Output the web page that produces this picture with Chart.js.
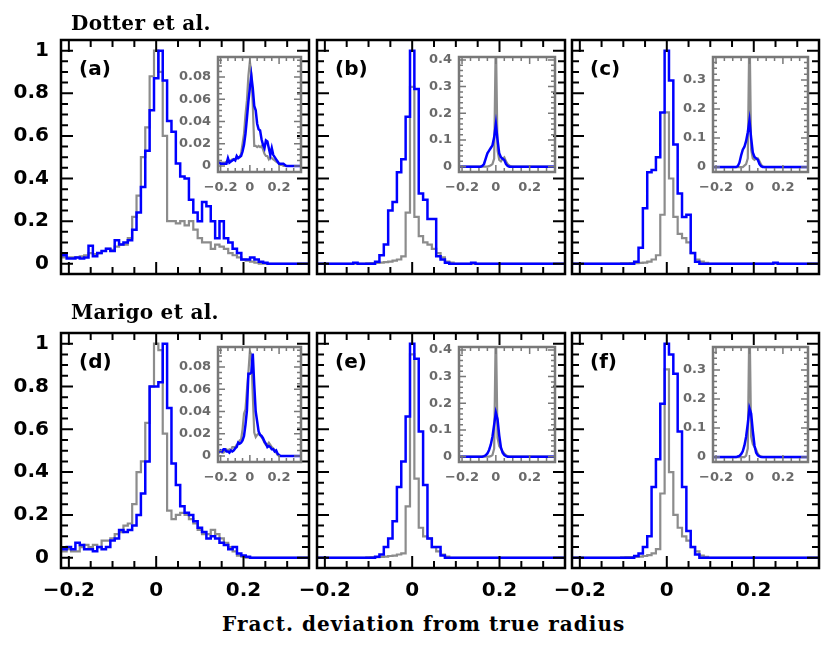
<!DOCTYPE html>
<html>
<head>
<meta charset="utf-8">
<script src="https://cdn.jsdelivr.net/npm/chart.js@4.4.0/dist/chart.umd.min.js"></script>
<style>
body { margin: 0; background: #fff; }
#fig { position: relative; width: 830px; height: 648px; overflow: hidden; background: #fff; }
#fig canvas { position: absolute; }
.txt { position: absolute; white-space: nowrap; color: #000; }
.row-title { font: bold 20px "DejaVu Serif"; letter-spacing: 0.3px; line-height: 20px; }
.panel-label { font: bold 20px "DejaVu Sans"; line-height: 20px; }
.axis-title { font: bold 20px "DejaVu Serif"; letter-spacing: 1.05px; line-height: 20px; }
</style>
</head>
<body>
<div id="fig"></div>
<script>
// bin centres of the histograms (fractional deviation)
const BIN_CENTERS = [-0.22,-0.21,-0.2,-0.19,-0.18,-0.17,-0.16,-0.15,-0.14,-0.13,-0.12,-0.11,-0.1,-0.09,-0.08,-0.07,-0.06,-0.05,-0.04,-0.03,-0.02,-0.01,
  0,0.01,0.02,0.03,0.04,0.05,0.06,0.07,0.08,0.09,0.1,0.11,0.12,0.13,0.14,0.15,0.16,0.17,0.18,0.19,0.2,0.21,0.22,0.23,0.24,0.25,0.26,0.27,0.28,0.29,0.3,0.31,0.32,0.33,0.34,0.35];

// main panels, normalised histograms
const blueA = [0.04,0.04,0.025,0.025,0.03,0.025,0.03,0.085,0.035,0.05,0.06,0.07,0.06,0.11,0.09,0.1,0.11,0.16,0.24,0.36,0.53,0.72,0.87,1.0,0.86,0.67,0.62,0.47,0.41,0.4,0.3,0.24,0.2,0.29,0.27,0.2,0.12,0.2,0.12,0.1,0.07,0.05,0.02,0.02,0.03,0.02,0.01,0.005,0,0,0,0,0,0,0,0,0,0];
const grayA = [0.03,0.03,0.03,0.03,0.03,0.035,0.04,0.05,0.045,0.05,0.06,0.07,0.065,0.08,0.09,0.09,0.12,0.22,0.32,0.5,0.64,0.88,1.0,0.9,0.6,0.2,0.2,0.19,0.2,0.18,0.2,0.16,0.12,0.1,0.1,0.07,0.09,0.08,0.07,0.05,0.04,0.03,0.02,0.015,0.01,0.005,0,0,0,0,0,0,0,0,0,0,0,0];
const blueB = [0,0,0,0,0,0,0,0,0,0.005,0,0,0,0,0.01,0.04,0.09,0.25,0.29,0.43,0.49,0.69,1.0,0.82,0.33,0.3,0.21,0.21,0.035,0.02,0.005,0,0,0,0,0,0.005,0,0,0,0,0,0,0,0,0,0,0,0,0,0,0,0,0,0,0,0,0];
const grayB = [0,0,0,0,0,0,0,0,0,0,0,0,0.002,0.003,0.004,0.005,0.008,0.01,0.015,0.02,0.035,0.24,0.83,0.22,0.13,0.1,0.09,0.07,0.05,0.03,0.01,0.005,0,0,0,0,0,0,0,0,0,0,0,0,0,0,0,0,0,0,0,0,0,0,0,0,0,0];
const blueC = [0,0,0,0,0,0,0,0,0,0,0,0,0,0,0,0.01,0.075,0.26,0.43,0.44,0.5,0.71,1.0,0.86,0.56,0.33,0.22,0.23,0.05,0.01,0,0,0,0,0,0,0,0,0,0,0,0,0,0,0,0,0,0.005,0,0,0,0,0,0,0,0,0,0];
const grayC = [0,0,0,0,0,0,0,0,0,0,0,0,0.002,0.002,0.003,0.003,0.004,0.005,0.01,0.02,0.04,0.23,0.71,0.4,0.22,0.14,0.12,0.1,0.05,0.02,0.01,0.004,0,0,0,0,0,0,0,0,0,0,0,0,0,0,0,0,0,0,0,0,0,0,0,0,0,0];
const blueD = [0.04,0.04,0.05,0.04,0.07,0.06,0.04,0.04,0.03,0.05,0.04,0.05,0.08,0.09,0.13,0.12,0.13,0.15,0.2,0.3,0.45,0.8,0.8,0.82,1.0,0.7,0.44,0.34,0.24,0.21,0.2,0.17,0.14,0.12,0.09,0.1,0.09,0.07,0.06,0.04,0.05,0.02,0.01,0.005,0,0,0,0,0,0,0,0,0,0,0,0,0,0];
const grayD = [0.03,0.03,0.04,0.03,0.03,0.05,0.06,0.05,0.06,0.05,0.08,0.08,0.09,0.11,0.12,0.15,0.16,0.25,0.4,0.45,0.63,0.8,1.0,0.97,0.58,0.22,0.18,0.2,0.21,0.2,0.18,0.16,0.13,0.11,0.11,0.13,0.11,0.09,0.07,0.05,0.03,0.01,0.005,0,0,0,0,0,0,0,0,0,0,0,0,0,0,0];
const blueE = [0,0,0,0,0,0,0,0,0,0,0,0,0,0,0.005,0.015,0.05,0.09,0.17,0.33,0.45,0.66,1.0,0.93,0.59,0.34,0.09,0.05,0.05,0.01,0,0,0,0,0,0,0,0,0,0,0,0,0,0,0,0,0,0,0,0,0,0,0,0,0,0,0,0];
const grayE = [0,0,0,0,0,0,0,0,0,0,0,0,0.002,0.003,0.003,0.004,0.005,0.008,0.01,0.015,0.02,0.24,0.95,0.37,0.14,0.1,0.09,0.05,0.03,0.015,0.005,0,0,0,0,0,0,0,0,0,0,0,0,0,0,0,0,0,0,0,0,0,0,0,0,0,0,0];
const blueF = [0,0,0,0,0,0,0,0,0,0,0,0,0,0,0,0.008,0.02,0.05,0.1,0.33,0.46,0.72,1.0,0.95,0.86,0.59,0.33,0.125,0.05,0.015,0,0,0,0,0,0,0,0,0,0,0,0,0,0,0,0,0,0,0,0,0,0,0,0,0,0,0,0];
const grayF = [0,0,0,0,0,0,0,0,0,0,0,0,0.002,0.003,0.003,0.004,0.005,0.008,0.012,0.02,0.04,0.3,0.88,0.4,0.2,0.14,0.1,0.08,0.05,0.03,0.01,0.004,0,0,0,0,0,0,0,0,0,0,0,0,0,0,0,0,0,0,0,0,0,0,0,0,0,0];

// insets, un-normalised fractions
const insetBlueA = [0.003,0.003,0.002,0.002,0.002,0.002,0.002,0.007,0.003,0.004,0.005,0.006,0.005,0.009,0.007,0.008,0.009,0.013,0.019,0.029,0.043,0.058,0.07,0.081,0.07,0.054,0.05,0.038,0.033,0.032,0.024,0.019,0.016,0.023,0.022,0.016,0.01,0.016,0.01,0.008,0.006,0.004,0.002,0.002,0.002,0.002,0.001,0,0,0,0,0,0,0,0,0,0,0];
const insetGrayA = [0.003,0.003,0.003,0.003,0.003,0.003,0.004,0.005,0.004,0.005,0.006,0.006,0.006,0.007,0.008,0.008,0.011,0.02,0.029,0.046,0.059,0.081,0.094,0.083,0.055,0.018,0.018,0.017,0.018,0.017,0.018,0.015,0.011,0.009,0.009,0.006,0.008,0.007,0.006,0.005,0.004,0.003,0.002,0.001,0.001,0,0,0,0,0,0,0,0,0,0,0,0,0];
const insetBlueB = [0,0,0,0,0,0,0,0,0,0,0,0,0,0,0.003,0.01,0.03,0.05,0.06,0.07,0.08,0.11,0.16,0.1,0.05,0.035,0.03,0.025,0.01,0.003,0,0,0,0,0,0,0,0,0,0,0,0,0,0,0,0,0,0,0,0,0,0,0,0,0,0,0,0];
const insetGrayB = [0,0,0,0,0,0,0,0,0,0,0,0,0,0,0,0,0,0,0.002,0.005,0.01,0.03,0.5,0.06,0.025,0.02,0.03,0.035,0.02,0.01,0.004,0.001,0,0,0,0,0,0,0,0,0,0,0,0,0,0,0,0,0,0,0,0,0,0,0,0,0,0];
const insetBlueC = [0,0,0,0,0,0,0,0,0,0,0,0,0,0,0,0.003,0.015,0.04,0.06,0.07,0.09,0.12,0.16,0.1,0.05,0.035,0.03,0.025,0.01,0.003,0,0,0,0,0,0,0,0,0,0,0,0,0,0,0,0,0,0,0,0,0,0,0,0,0,0,0,0];
const insetGrayC = [0,0,0,0,0,0,0,0,0,0,0,0,0,0,0,0,0,0,0,0.005,0.01,0.03,0.5,0.06,0.03,0.025,0.03,0.03,0.02,0.008,0.002,0,0,0,0,0,0,0,0,0,0,0,0,0,0,0,0,0,0,0,0,0,0,0,0,0,0,0];
const insetBlueD = [0.004,0.004,0.005,0.004,0.006,0.006,0.004,0.004,0.003,0.005,0.004,0.005,0.007,0.008,0.012,0.011,0.012,0.014,0.018,0.028,0.041,0.074,0.074,0.075,0.092,0.064,0.04,0.031,0.022,0.019,0.018,0.016,0.013,0.011,0.008,0.009,0.008,0.006,0.006,0.004,0.005,0.002,0.001,0,0,0,0,0,0,0,0,0,0,0,0,0,0,0];
const insetGrayD = [0.003,0.003,0.004,0.003,0.003,0.005,0.006,0.005,0.006,0.005,0.008,0.008,0.008,0.01,0.011,0.014,0.015,0.024,0.038,0.042,0.059,0.075,0.094,0.091,0.055,0.021,0.017,0.019,0.02,0.019,0.017,0.015,0.012,0.01,0.01,0.012,0.01,0.008,0.007,0.005,0.003,0.001,0,0,0,0,0,0,0,0,0,0,0,0,0,0,0,0];
const insetBlueE = [0,0,0,0,0,0,0,0,0,0,0,0,0,0,0,0.002,0.005,0.012,0.025,0.045,0.075,0.12,0.165,0.14,0.08,0.035,0.015,0.006,0.002,0,0,0,0,0,0,0,0,0,0,0,0,0,0,0,0,0,0,0,0,0,0,0,0,0,0,0,0,0];
const insetGrayE = [0,0,0,0,0,0,0,0,0,0,0,0,0,0,0,0,0,0,0,0.002,0.006,0.03,0.5,0.07,0.04,0.03,0.02,0.012,0.006,0.002,0,0,0,0,0,0,0,0,0,0,0,0,0,0,0,0,0,0,0,0,0,0,0,0,0,0,0,0];
const insetBlueF = [0,0,0,0,0,0,0,0,0,0,0,0,0,0,0,0.002,0.004,0.01,0.02,0.04,0.07,0.115,0.168,0.15,0.09,0.04,0.015,0.006,0.002,0,0,0,0,0,0,0,0,0,0,0,0,0,0,0,0,0,0,0,0,0,0,0,0,0,0,0,0,0];
const insetGrayF = [0,0,0,0,0,0,0,0,0,0,0,0,0,0,0,0,0,0,0,0,0.005,0.03,0.5,0.07,0.045,0.035,0.025,0.012,0.005,0.002,0,0,0,0,0,0,0,0,0,0,0,0,0,0,0,0,0,0,0,0,0,0,0,0,0,0,0,0];

// ticks and text
const X_MAJOR = [-0.2, 0, 0.2];
const MAIN_Y_MAJOR = [0, 0.2, 0.4, 0.6, 0.8, 1];
const INSET_Y_MAJOR_AD = [0, 0.02, 0.04, 0.06, 0.08];
const INSET_Y_MAJOR_BE = [0, 0.1, 0.2, 0.3, 0.4];
const INSET_Y_MAJOR_CF = [0, 0.1, 0.2, 0.3];
const PANEL_LABELS = ['(a)', '(b)', '(c)', '(d)', '(e)', '(f)'];
const ROW_TITLES = ['Dotter et al.', 'Marigo et al.'];
const X_TITLE = 'Fract. deviation from true radius';

// layout (pixel frames)
const FRAME_X = [[61, 309], [317, 565], [572, 819]];
const FRAME_Y = [[40, 274], [333, 568]];
const INSET_X = [[218, 301], [459, 555], [713, 808]];
const INSET_Y = [[57, 172], [347, 462]];
const X_RANGE = [-0.218, 0.35];

const BLUE = '#0000ff';
const GRAY = '#8c8c8c';
const INSET_FRAME = '#787878';
const INSET_TEXT = '#6a6a6a';

function steps(from, to, step){
    const out = [];
    for(let v = from; v <= to + 1e-9; v += step){
        out.push(+v.toFixed(4));
    }
    return out;
}

function fmt(v){
    const s = String(+Math.abs(v).toFixed(3));
    return v < -1e-9 ? '\u2212' + s : s;
}

function xy(vals){
    return BIN_CENTERS.map((x, i) => ({x: x, y: vals[i]}));
}

const fig = document.getElementById('fig');

function makeCanvas(left, top, w, h){
    const c = document.createElement('canvas');
    c.width = w; c.height = h;
    c.style.left = left + 'px';
    c.style.top = top + 'px';
    c.style.width = w + 'px';
    c.style.height = h + 'px';
    fig.appendChild(c);
    return c;
}

function addText(text, cls, left, top){
    const d = document.createElement('div');
    d.className = 'txt ' + cls;
    d.textContent = text;
    d.style.left = left + 'px';
    d.style.top = top + 'px';
    fig.appendChild(d);
    return d;
}

// frame with inward ticks on all four sides
const frameTicks = {
    id: 'frameTicks',
    afterDraw(chart, args, o){
        const ctx = chart.ctx;
        const a = chart.chartArea;
        const x = chart.scales.x, y = chart.scales.y;
        const isMajor = (v, list) => list.some(m => Math.abs(m - v) < 1e-9);
        ctx.save();
        ctx.strokeStyle = o.color;
        ctx.lineWidth = o.tickWidth;
        ctx.beginPath();
        o.xMinor.forEach(v => {
            const p = x.getPixelForValue(v);
            const len = isMajor(v, o.xMajor) ? o.major : o.minor;
            ctx.moveTo(p, a.bottom); ctx.lineTo(p, a.bottom - len);
            ctx.moveTo(p, a.top); ctx.lineTo(p, a.top + len);
        });
        o.yMinor.forEach(v => {
            const p = y.getPixelForValue(v);
            const len = isMajor(v, o.yMajor) ? o.major : o.minor;
            ctx.moveTo(a.left, p); ctx.lineTo(a.left + len, p);
            ctx.moveTo(a.right, p); ctx.lineTo(a.right - len, p);
        });
        ctx.stroke();
        ctx.lineWidth = o.width;
        ctx.strokeRect(a.left, a.top, a.right - a.left, a.bottom - a.top);
        ctx.restore();
    }
};

function noPad(s){
    s.paddingTop = 0; s.paddingBottom = 0;
    s.paddingLeft = 0; s.paddingRight = 0;
}

function buildChart(canvas, cfg){
    const pad = cfg.pad;
    return new Chart(canvas, {
        type: 'line',
        data: {
            datasets: [
                {data: xy(cfg.blue), borderColor: BLUE, borderWidth: cfg.lw, stepped: cfg.stepped, pointRadius: 0, fill: false},
                {data: xy(cfg.gray), borderColor: GRAY, borderWidth: cfg.lw - 0.3, stepped: cfg.stepped, pointRadius: 0, fill: false}
            ]
        },
        options: {
            responsive: false,
            animation: false,
            events: [],
            layout: {autoPadding: false, padding: {top: pad.t, right: pad.r, left: 0, bottom: 0}},
            plugins: {
                legend: {display: false},
                tooltip: {enabled: false},
                frameTicks: cfg.frame
            },
            scales: {
                x: {
                    type: 'linear', min: X_RANGE[0], max: X_RANGE[1],
                    grid: {display: false, drawTicks: false},
                    border: {display: false},
                    afterBuildTicks: s => { s.ticks = X_MAJOR.map(v => ({value: v})); },
                    afterFit: s => { s.height = pad.b; noPad(s); },
                    ticks: {display: cfg.showX, padding: cfg.xPad, color: cfg.textColor, font: cfg.font,
                            maxRotation: 0, autoSkip: false, callback: fmt}
                },
                y: {
                    type: 'linear', min: cfg.yRange[0], max: cfg.yRange[1],
                    grid: {display: false, drawTicks: false},
                    border: {display: false},
                    afterBuildTicks: s => { s.ticks = cfg.yMajor.map(v => ({value: v})); },
                    afterFit: s => { s.width = pad.l; noPad(s); },
                    ticks: {display: cfg.showY, padding: cfg.yPad, color: cfg.textColor, font: cfg.font,
                            autoSkip: false, callback: fmt}
                }
            }
        },
        plugins: [frameTicks]
    });
}

const panels = [
    {blue: blueA, gray: grayA, iBlue: insetBlueA, iGray: insetGrayA, iY: [-0.0054, 0.098], iMajor: INSET_Y_MAJOR_AD, iMinor: steps(0, 0.095, 0.005)},
    {blue: blueB, gray: grayB, iBlue: insetBlueB, iGray: insetGrayB, iY: [-0.02, 0.411], iMajor: INSET_Y_MAJOR_BE, iMinor: steps(0, 0.4, 0.02)},
    {blue: blueC, gray: grayC, iBlue: insetBlueC, iGray: insetGrayC, iY: [-0.017, 0.379], iMajor: INSET_Y_MAJOR_CF, iMinor: steps(0, 0.36, 0.02)},
    {blue: blueD, gray: grayD, iBlue: insetBlueD, iGray: insetGrayD, iY: [-0.0054, 0.098], iMajor: INSET_Y_MAJOR_AD, iMinor: steps(0, 0.095, 0.005)},
    {blue: blueE, gray: grayE, iBlue: insetBlueE, iGray: insetGrayE, iY: [-0.02, 0.411], iMajor: INSET_Y_MAJOR_BE, iMinor: steps(0, 0.4, 0.02)},
    {blue: blueF, gray: grayF, iBlue: insetBlueF, iGray: insetGrayF, iY: [-0.017, 0.379], iMajor: INSET_Y_MAJOR_CF, iMinor: steps(0, 0.36, 0.02)}
];

const xMinor = steps(-0.2, 0.3, 0.05);

panels.forEach((p, k) => {
    const col = k % 3, row = Math.floor(k / 3);
    const [fl, fr] = FRAME_X[col];
    const [ft, fb] = FRAME_Y[row];
    const pad = {l: 60, t: 6, r: 6, b: 42};
    const cv = makeCanvas(fl - pad.l, ft - pad.t, fr - fl + pad.l + pad.r, fb - ft + pad.t + pad.b);
    buildChart(cv, {
        blue: p.blue, gray: p.gray, lw: 2.5, stepped: 'middle', pad: pad,
        yRange: [-0.048, 1.05], yMajor: MAIN_Y_MAJOR,
        showX: row === 1, showY: col === 0, xPad: 11, yPad: 12,
        textColor: '#000', font: {family: 'DejaVu Sans', size: 20, weight: 'bold'},
        frame: {color: '#000', width: 2.5, tickWidth: 2, major: 12, minor: 7,
                xMajor: X_MAJOR, xMinor: xMinor, yMajor: MAIN_Y_MAJOR, yMinor: steps(0, 1, 0.05)}
    });
    addText(PANEL_LABELS[k], 'panel-label', fl + 18, ft + 18);

    const [il, ir] = INSET_X[col];
    const [it, ib] = INSET_Y[row];
    const ipad = {l: 48, t: 8, r: 4, b: 26};
    const icv = makeCanvas(il - ipad.l, it - ipad.t, ir - il + ipad.l + ipad.r, ib - it + ipad.t + ipad.b);
    buildChart(icv, {
        blue: p.iBlue, gray: p.iGray, lw: 2.5, stepped: false, pad: ipad,
        yRange: p.iY, yMajor: p.iMajor,
        showX: true, showY: true, xPad: 8, yPad: 7,
        textColor: INSET_TEXT, font: {family: 'DejaVu Sans', size: 13, weight: 'bold'},
        frame: {color: INSET_FRAME, width: 2.5, tickWidth: 1.5, major: 7, minor: 4,
                xMajor: X_MAJOR, xMinor: xMinor, yMajor: p.iMajor, yMinor: p.iMinor}
    });
});

addText(ROW_TITLES[0], 'row-title', 71, 13);
addText(ROW_TITLES[1], 'row-title', 71, 302);
addText(X_TITLE, 'axis-title', 222, 614);
</script>
</body>
</html>
